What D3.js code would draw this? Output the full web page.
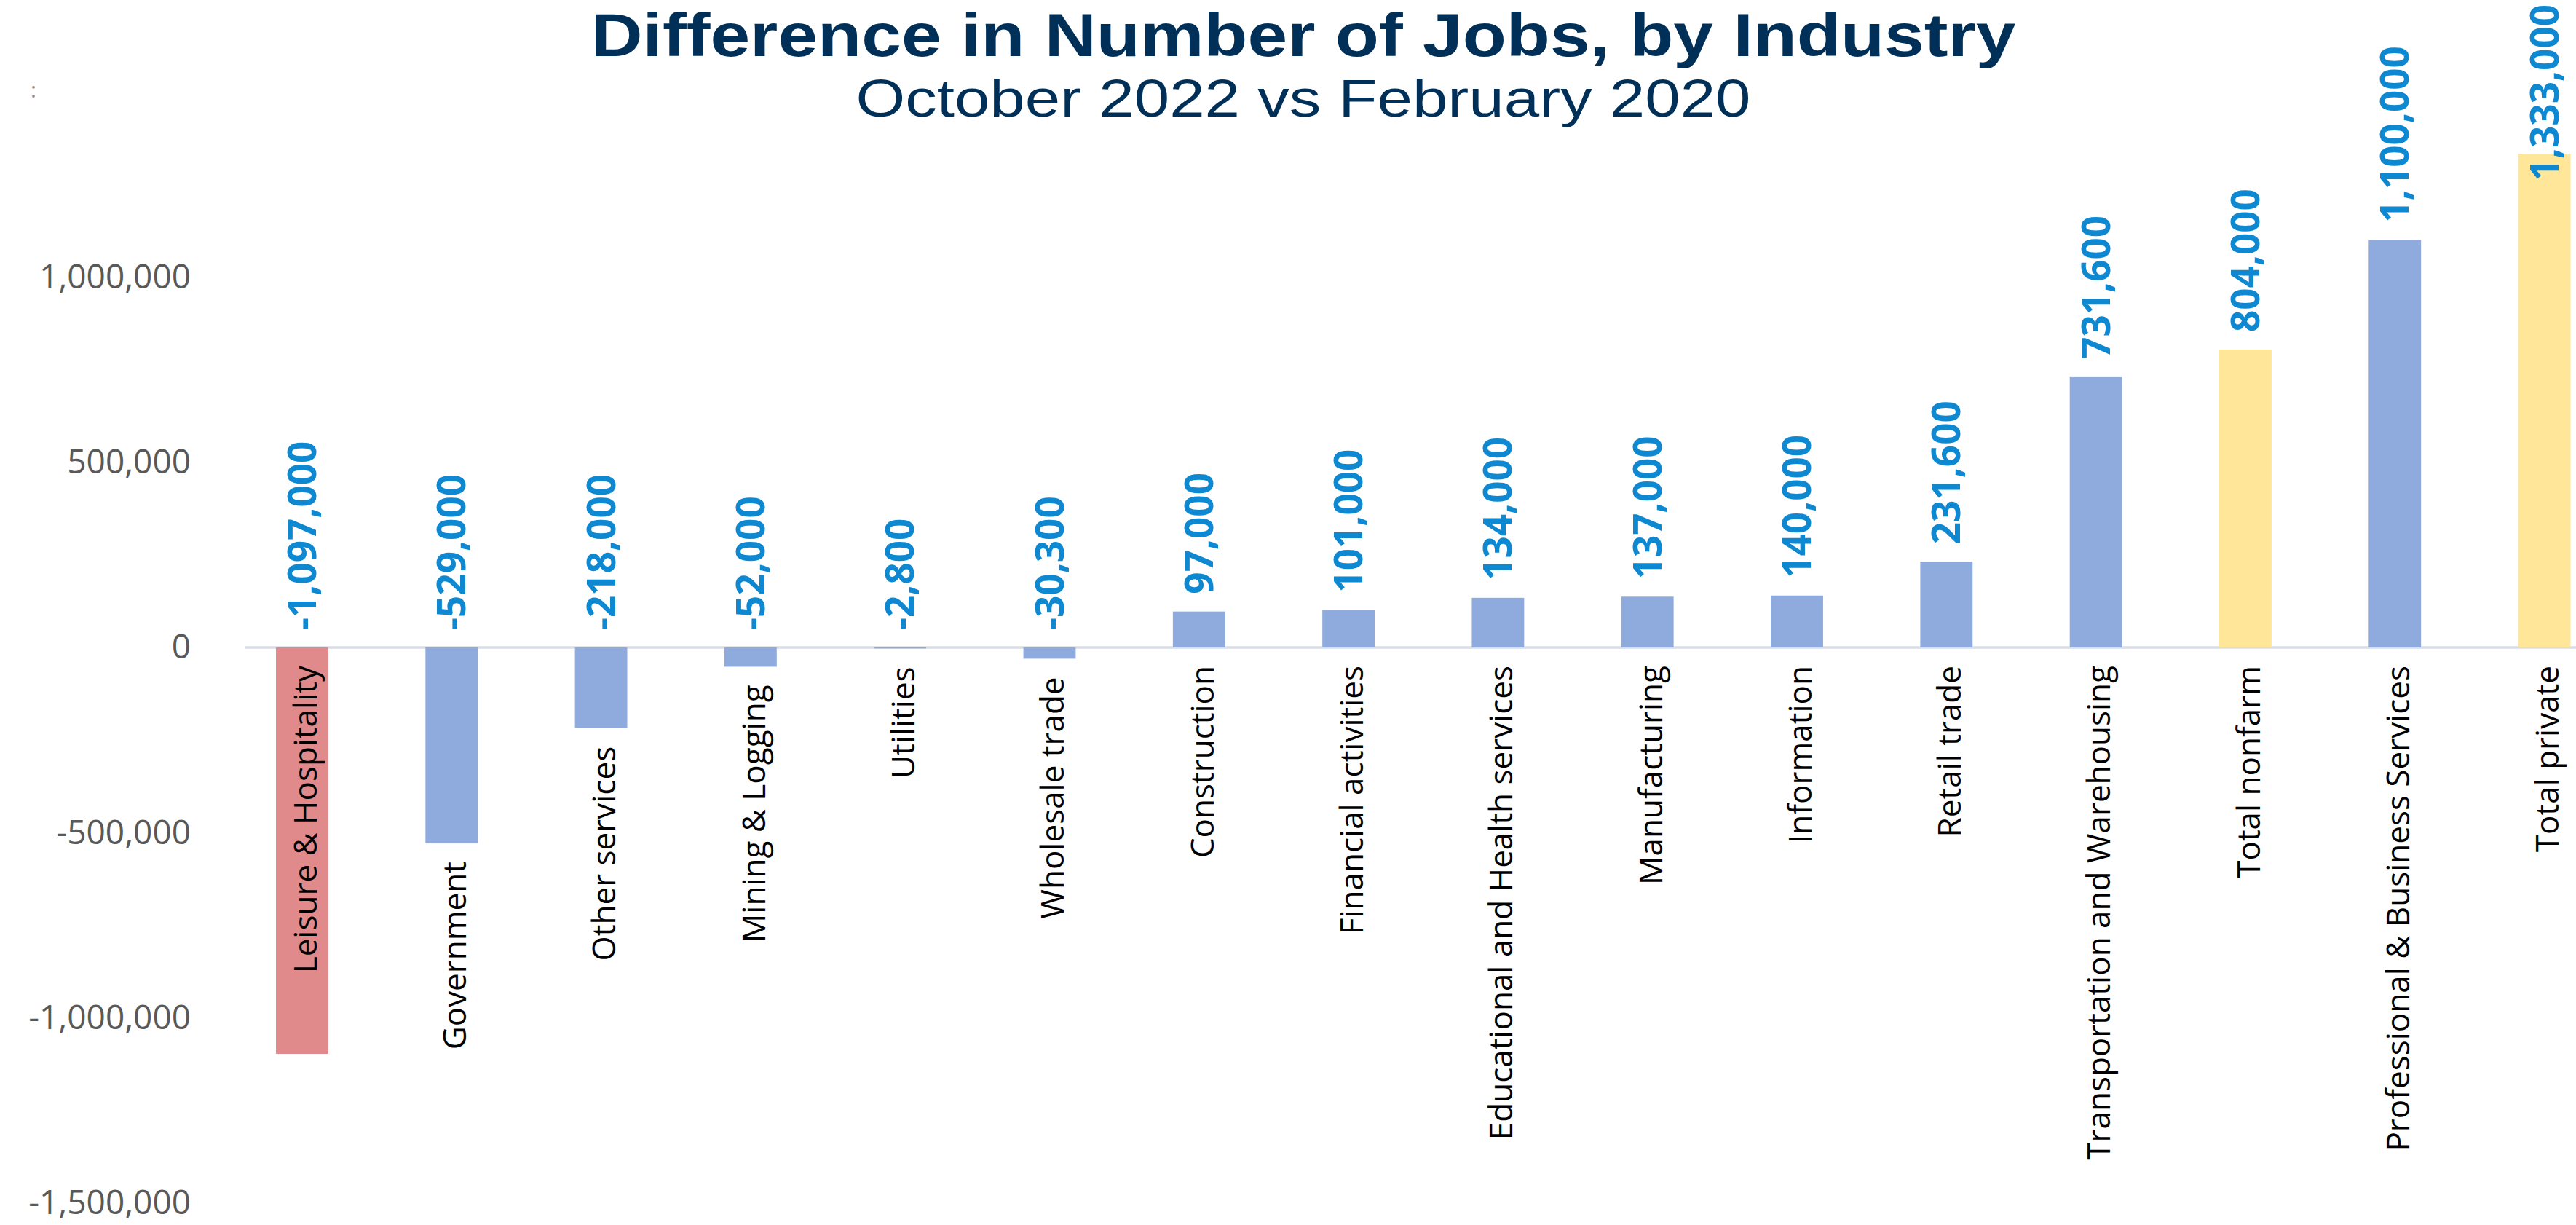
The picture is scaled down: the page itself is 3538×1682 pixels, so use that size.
<!DOCTYPE html>
<html>
<head>
<meta charset="utf-8">
<script src="https://cdn.jsdelivr.net/npm/d3@7"></script>
<style>
  html, body { margin: 0; padding: 0; background: #ffffff; overflow: hidden; }
  svg { display: block; }
</style>
</head>
<body>
<svg id="chart"></svg>
<script>
// Job change by industry, October 2022 vs February 2020
const categories = [
  "Leisure & Hospitality", "Government", "Other services", "Mining & Logging",
  "Utilities", "Wholesale trade", "Construction", "Financial activities",
  "Educational and Health services", "Manufacturing", "Information", "Retail trade",
  "Transportation and Warehousing", "Total nonfarm", "Professional & Business Services",
  "Total private"
];
const values = [
  -1097000, -529000, -218000, -52000,
  -2800, -30300, 97000, 101000,
  134000, 137000, 140000, 231600,
  731600, 804000, 1100000,
  1333000
];
// bar colour group: highlight (largest loss), industry, total
const groups = [
  "loss", "industry", "industry", "industry",
  "industry", "industry", "industry", "industry",
  "industry", "industry", "industry", "industry",
  "industry", "total", "industry",
  "total"
];
const yTicks = [-1500000, -1000000, -500000, 0, 500000, 1000000];
const titleText = "Difference in Number of Jobs, by Industry";
const subtitleText = "October 2022 vs February 2020";

const W = 3538, H = 1682;
const colors = { loss: "#E08A8C", industry: "#8FAADC", total: "#FFE699" };

const svg = d3.select("#chart").attr("width", W).attr("height", H);

const data = categories.map((c, i) => ({ cat: c, value: values[i], group: groups[i] }));

const x = d3.scaleBand()
  .domain(categories)
  .range([312.3, 3597.2])
  .paddingInner(0.65)
  .paddingOuter(0.325);

const y = d3.scaleLinear()
  .domain([-1500000, 1500000])
  .range([1652, 126]);

// plain hyphen for negative numbers
const locale = d3.formatLocale({ decimal: ".", thousands: ",", grouping: [3], currency: ["$", ""], minus: "-" });
const fmt = locale.format(",");

// Title block
svg.append("text")
  .attr("x", 1790).attr("y", 77)
  .attr("text-anchor", "middle")
  .attr("font-family", "'Liberation Sans Narrow', 'Liberation Sans', sans-serif")
  .attr("font-weight", 700)
  .attr("font-size", 84)
  .attr("fill", "#003057")
  .attr("textLength", 1957)
  .attr("lengthAdjust", "spacingAndGlyphs")
  .text(titleText);

svg.append("text")
  .attr("x", 1790).attr("y", 160)
  .attr("text-anchor", "middle")
  .attr("font-family", "'Liberation Sans Narrow', 'Liberation Sans', sans-serif")
  .attr("font-weight", 400)
  .attr("font-size", 72)
  .attr("fill", "#003057")
  .attr("textLength", 1229)
  .attr("lengthAdjust", "spacingAndGlyphs")
  .text(subtitleText);

// small stray mark at the top of the value axis
svg.append("text")
  .attr("x", 46).attr("y", 134)
  .attr("text-anchor", "middle")
  .attr("font-family", "'Open Sans', sans-serif")
  .attr("font-size", 30)
  .attr("fill", "#8a8a8a")
  .text(":");

// Value axis labels
const yAxis = d3.axisLeft(y)
  .tickValues(yTicks)
  .tickSize(0)
  .tickPadding(0)
  .tickFormat(fmt);

const yAxisG = svg.append("g")
  .attr("transform", "translate(262,0)")
  .call(yAxis);
yAxisG.select(".domain").remove();
yAxisG.selectAll("text")
  .attr("font-family", "'Open Sans', sans-serif")
  .attr("font-size", 46)
  .attr("fill", "#595959");

// Zero line
svg.append("line")
  .attr("x1", 336).attr("x2", W)
  .attr("y1", y(0)).attr("y2", y(0))
  .attr("stroke", "#D9DEE6")
  .attr("stroke-width", 3.5);

// Bars
svg.append("g").selectAll("rect")
  .data(data)
  .join("rect")
  .attr("x", d => x(d.cat))
  .attr("width", x.bandwidth())
  .attr("y", d => Math.min(y(d.value), y(0)))
  .attr("height", d => Math.abs(y(d.value) - y(0)))
  .attr("fill", d => colors[d.group]);

// Value labels (rotated, above the bar or above the zero line)
const valueLabels = svg.append("g").selectAll("text")
  .data(data)
  .join("text")
  .attr("font-family", "'Open Sans', sans-serif")
  .attr("font-weight", 700)
  .attr("font-size", 53)
  .attr("fill", "#0F88D2")
  .attr("text-anchor", "start")
  .attr("dy", "0.36em")
  .text(d => fmt(d.value));

valueLabels.each(function(d) {
  const len = this.getComputedTextLength();
  let anchor = Math.min(y(d.value), y(0)) - 24;
  if (anchor - len < 6) anchor = len + 6;
  const cx = x(d.cat) + x.bandwidth() / 2;
  d3.select(this).attr("transform", `translate(${cx},${anchor}) rotate(-90)`);
});

// Category labels (rotated, below the bar or the zero line)
const catLabels = svg.append("g").selectAll("text")
  .data(data)
  .join("text")
  .attr("font-family", "'Open Sans', sans-serif")
  .attr("font-weight", 400)
  .attr("font-size", 44)
  .attr("fill", "#000000")
  .attr("text-anchor", "end")
  .attr("dy", "0.36em")
  .text(d => d.cat);

catLabels.each(function(d) {
  const len = this.getComputedTextLength();
  const bottom = d.value < 0 ? y(d.value) : y(0);
  let anchor = bottom + 25;
  if (anchor + len > H - 8) anchor = y(0) + 25;
  const cx = x(d.cat) + x.bandwidth() / 2 + 4;
  d3.select(this).attr("transform", `translate(${cx},${anchor}) rotate(-90)`);
});
</script>
</body>
</html>
